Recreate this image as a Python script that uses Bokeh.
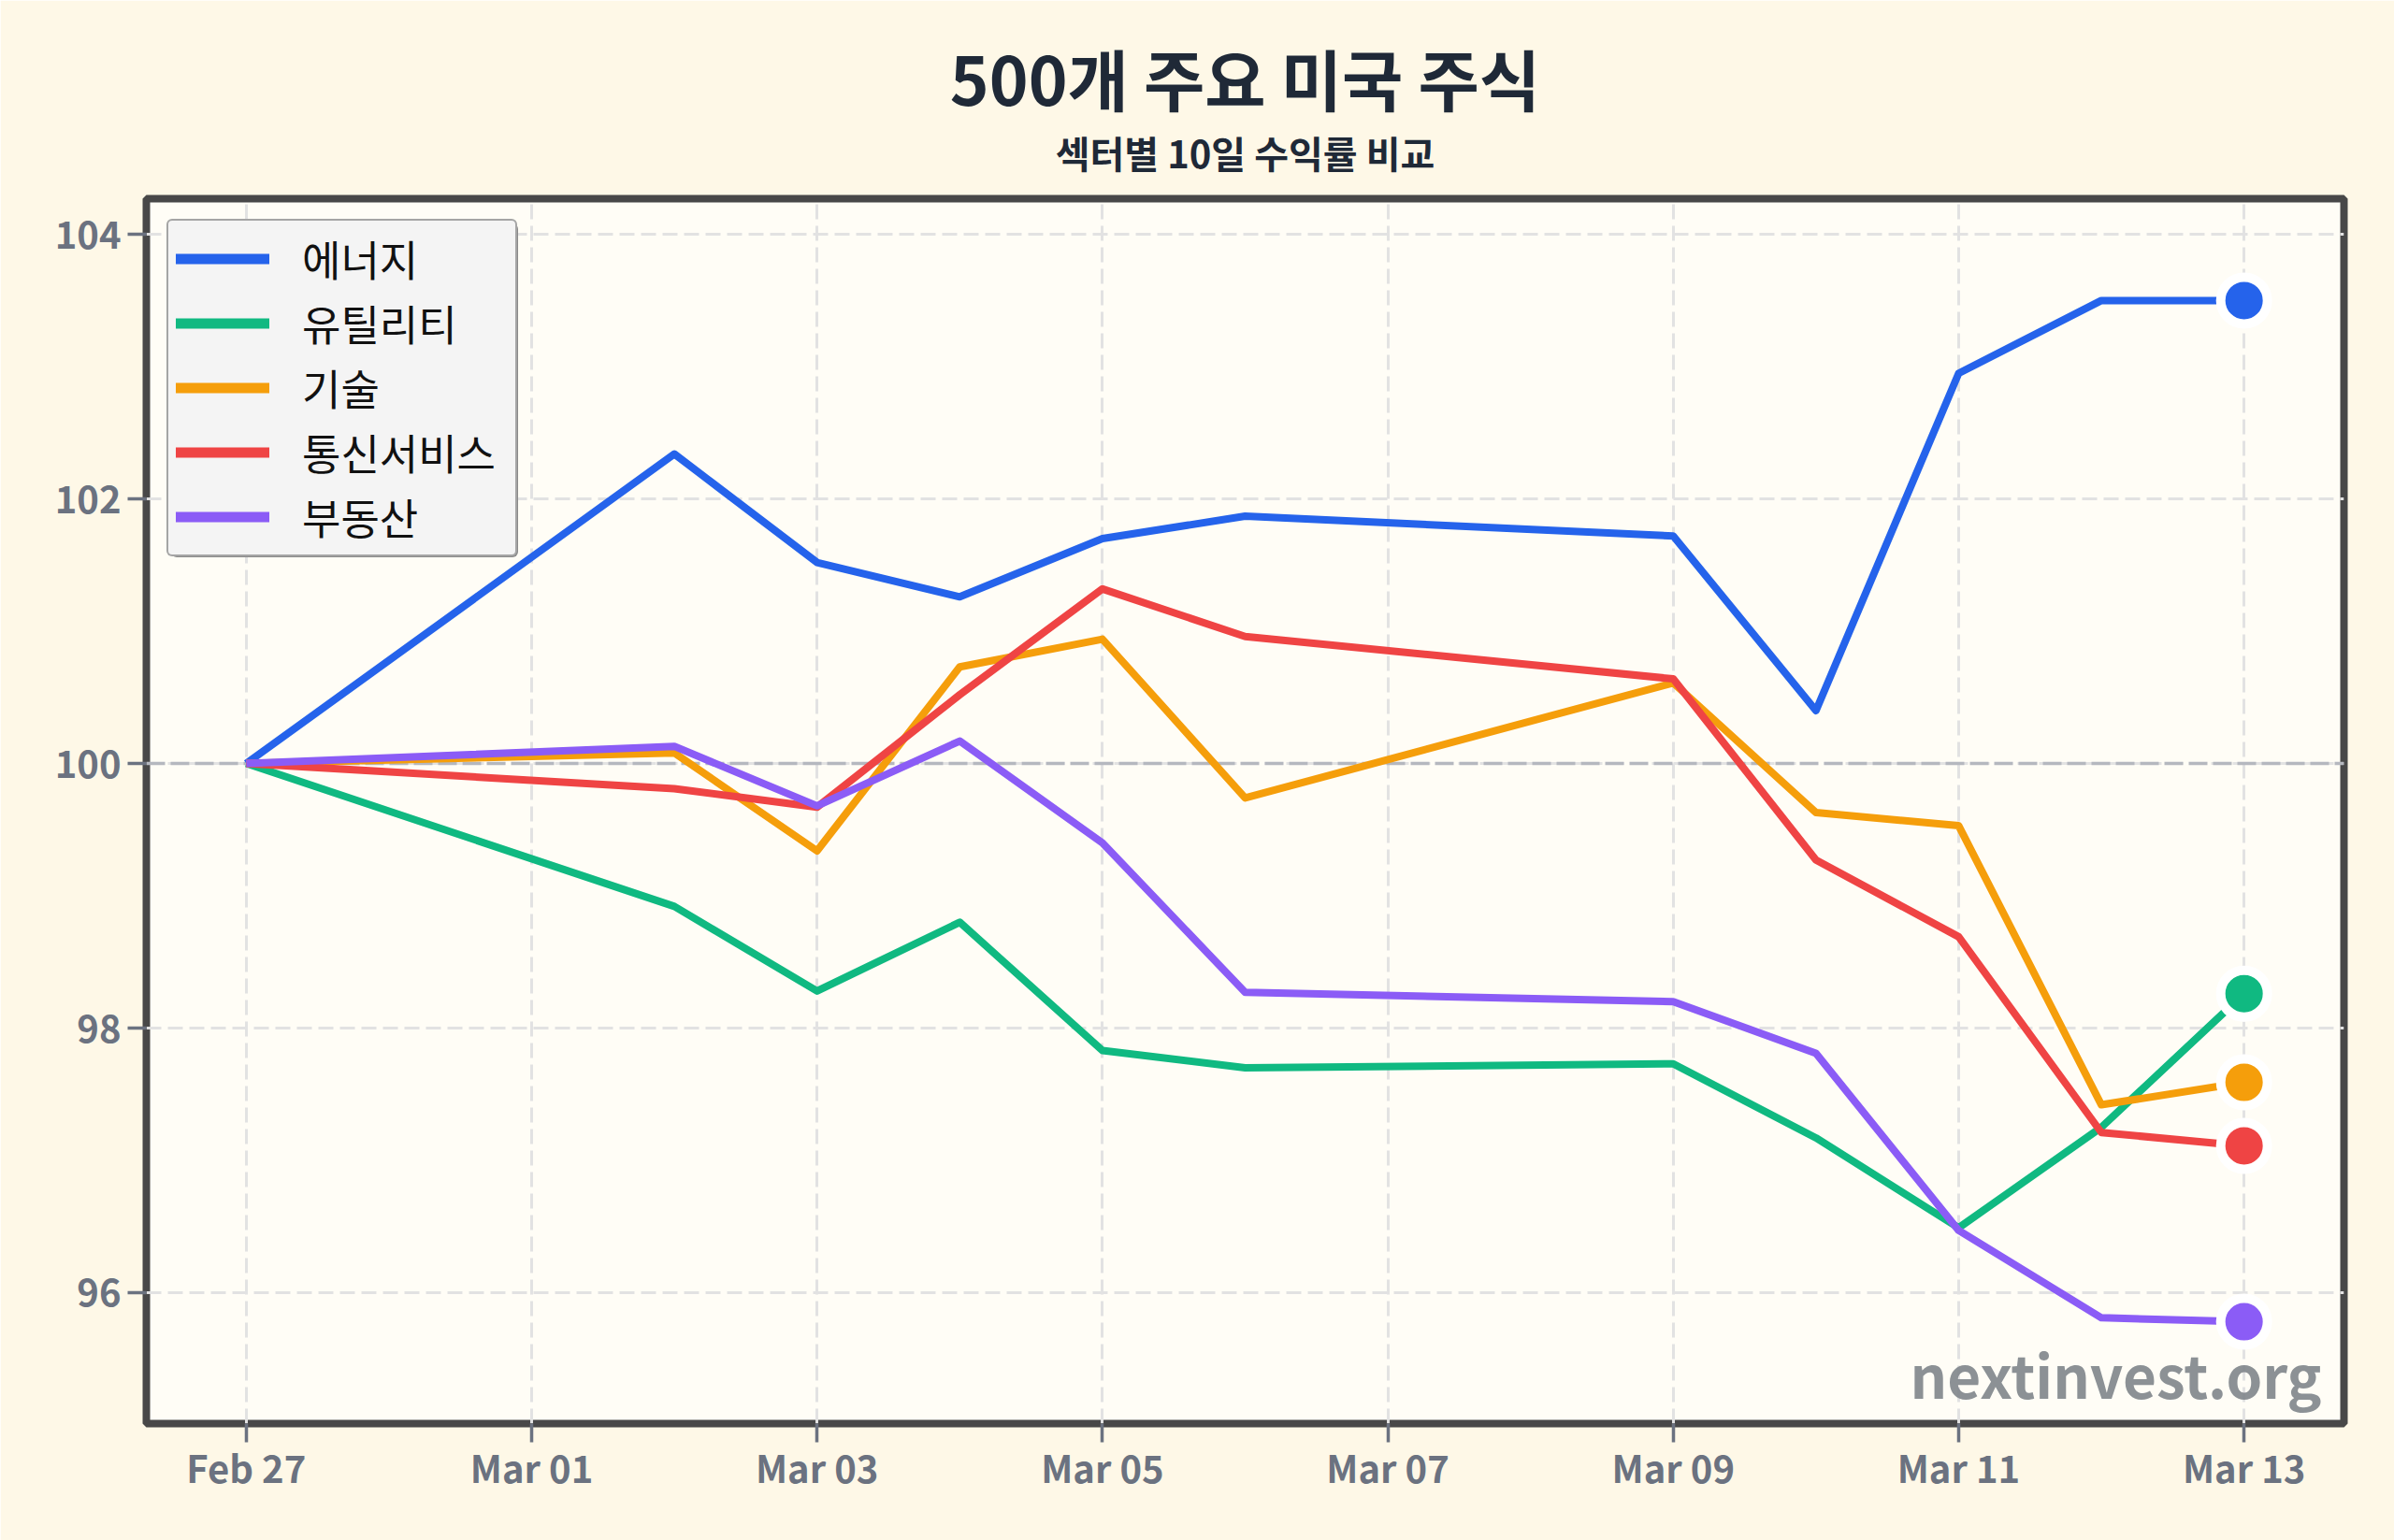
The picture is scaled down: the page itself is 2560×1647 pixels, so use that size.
import numpy as np
from bokeh.plotting import figure
from bokeh.models import (Range1d, FixedTicker, DatetimeTickFormatter, Span, Label, Title,
                          Legend, LegendItem, ColumnDataSource)
from bokeh.embed import file_html
from bokeh.resources import INLINE

# trading days (2026)
dates = ["2026-02-27", "2026-03-02", "2026-03-03", "2026-03-04", "2026-03-05",
         "2026-03-06", "2026-03-09", "2026-03-10", "2026-03-11", "2026-03-12",
         "2026-03-13"]

sectors = ["에너지", "유틸리티", "기술", "통신서비스", "부동산"]
colors = ["#2563EB", "#10B981", "#F59E0B", "#EF4444", "#8B5CF6"]

# indexed performance (start = 100)
energy = [100.0, 102.34, 101.52, 101.26, 101.70, 101.87, 101.72, 100.40, 102.95, 103.50, 103.50]
utilities = [100.0, 98.92, 98.28, 98.80, 97.83, 97.70, 97.73, 97.17, 96.49, 97.25, 98.26]
technology = [100.0, 100.08, 99.34, 100.73, 100.94, 99.74, 100.61, 99.63, 99.53, 97.42, 97.59]
communication = [100.0, 99.81, 99.67, 100.52, 101.32, 100.96, 100.64, 99.27, 98.69, 97.21, 97.11]
real_estate = [100.0, 100.13, 99.68, 100.17, 99.40, 98.27, 98.20, 97.81, 96.47, 95.81, 95.78]

tick_dates = ["2026-02-27", "2026-03-01", "2026-03-03", "2026-03-05", "2026-03-07",
              "2026-03-09", "2026-03-11", "2026-03-13"]
y_ticks = [96, 98, 100, 102, 104]

series = [energy, utilities, technology, communication, real_estate]

x = np.array(dates, dtype="datetime64[ms]")
x_ms = x.astype("int64").astype(float)
day_ms = 86400000.0
pad = 0.7 * day_ms

FONT = "Noto Sans CJK KR"
TICK_COLOR = "#6B7280"

p = figure(width=2560, height=1647, x_axis_type="datetime",
           output_backend="svg", toolbar_location=None, title=None,
           x_range=Range1d(x_ms[0] - pad, x_ms[-1] + pad),
           y_range=Range1d(95.01, 104.27),
           min_border_left=156, min_border_right=54,
           min_border_top=212, min_border_bottom=125)

p.border_fill_color = "#FEF8E7"
p.background_fill_color = "#FFFDF6"
p.outline_line_color = "#484848"
p.outline_line_width = 8

# headings: the first title added sits nearest the frame
p.add_layout(Title(text="섹터별 10일 수익률 비교", align="center", text_font=FONT,
                   text_font_style="bold", text_font_size="40px", text_color="#1F2937",
                   standoff=42), "above")
p.add_layout(Title(text="500개 주요 미국 주식", align="center", text_font=FONT,
                   text_font_style="bold", text_font_size="71px", text_color="#1F2937",
                   standoff=-44), "above")

# axes
tick_ms = np.array(tick_dates, dtype="datetime64[ms]").astype("int64").astype(float).tolist()
p.xaxis.ticker = FixedTicker(ticks=tick_ms)
fmt = "%b %d"
p.xaxis.formatter = DatetimeTickFormatter(milliseconds=fmt, seconds=fmt, minsec=fmt, minutes=fmt,
                                          hourmin=fmt, hours=fmt, days=fmt, months=fmt, years=fmt)
p.yaxis.ticker = FixedTicker(ticks=y_ticks)

for ax in (p.xaxis[0], p.yaxis[0]):
    ax.axis_line_color = None
    ax.major_tick_line_color = TICK_COLOR
    ax.major_tick_line_width = 3.5
    ax.major_tick_out = 20
    ax.major_tick_in = 0
    ax.minor_tick_line_color = None
    ax.major_label_text_font = FONT
    ax.major_label_text_font_style = "bold"
    ax.major_label_text_font_size = "40px"
    ax.major_label_text_color = TICK_COLOR
p.xaxis.major_label_standoff = -3
p.yaxis.major_label_standoff = 7

# grid
p.xgrid.ticker = FixedTicker(ticks=tick_ms)
p.ygrid.ticker = FixedTicker(ticks=y_ticks)
for g in (p.xgrid[0], p.ygrid[0]):
    g.grid_line_color = "#E2E2E2"
    g.grid_line_width = 3
    g.grid_line_dash = "16 7"

baseline = Span(location=100, dimension="width", line_color="#B5B8BF",
                line_width=3.5, line_dash="20 6", level="underlay")
p.add_layout(baseline)

# sector lines
renderers = []
for name, vals, col in zip(sectors, series, colors):
    src = ColumnDataSource(data=dict(x=x, y=vals))
    r = p.line("x", "y", source=src, line_color=col, line_width=8,
               line_join="round")
    renderers.append(r)

# thicker, round-capped legend swatches: a single start point each, so no
# segment is drawn in the plot itself
swatches = []
for vals, col in zip(series, colors):
    swatches.append(p.line(x=[x[0]], y=[vals[0]], line_color=col, line_width=11,
                           line_cap="round"))

# latest value markers
last_src = ColumnDataSource(data=dict(x=[x[-1]] * len(series),
                                      y=[s[-1] for s in series],
                                      c=colors))
p.scatter("x", "y", source=last_src, size=50, fill_color="c",
          line_color="white", line_width=10)

# legend with drop shadow
legend_style = dict(location="top_left", padding=8, spacing=4,
                    glyph_width=100, glyph_height=65, label_height=65, label_width=220,
                    label_standoff=35, label_text_font=FONT, label_text_font_size="45px")

shadow = Legend(items=[LegendItem(label=n, renderers=[r]) for n, r in zip(sectors, swatches)],
                margin=27, label_text_alpha=0, border_line_alpha=0,
                background_fill_color="#8A8A8A", background_fill_alpha=1, **legend_style)
legend = Legend(items=[LegendItem(label=n, renderers=[r]) for n, r in zip(sectors, swatches)],
                margin=22, label_text_color="#111111", border_line_color="#555555",
                border_line_width=2, background_fill_color="#F4F4F4",
                background_fill_alpha=1, **legend_style)
for lg in (shadow, legend):
    if "border_radius" in lg.properties():
        lg.border_radius = 6
    p.add_layout(lg, "center")

# watermark (screen units measured from the plot frame's lower-left corner)
frame_w = 2560 - 156 - 54
p.add_layout(Label(x=frame_w - 24, y=54, x_units="screen", y_units="screen",
                   text="nextinvest.org", text_font=FONT, text_font_style="bold",
                   text_font_size="62px", text_color="#80858B", text_alpha=0.9,
                   text_align="right", text_baseline="alphabetic"))

open("out.html", "w").write(file_html(p, INLINE))
